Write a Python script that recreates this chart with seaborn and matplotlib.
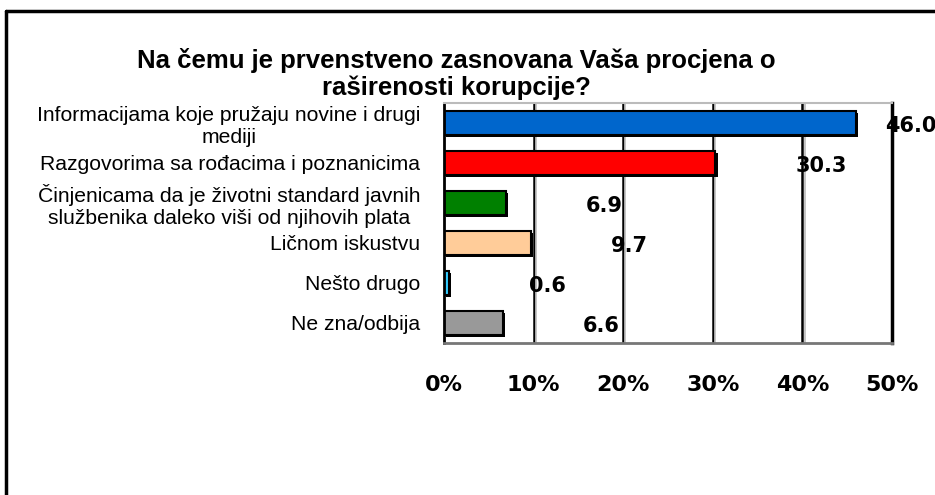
"""Horizontal bar chart: basis of the respondents' estimate of corruption."""
import matplotlib
matplotlib.use("Agg")
import matplotlib.pyplot as plt
import matplotlib.patheffects as pe
from matplotlib.lines import Line2D
import pandas as pd
import seaborn as sns

categories = [
    "Informacijama koje pružaju novine i drugi\nmediji",
    "Razgovorima sa rođacima i poznanicima",
    "Činjenicama da je životni standard javnih\nslužbenika daleko viši od njihovih plata",
    "Ličnom iskustvu",
    "Nešto drugo",
    "Ne zna/odbija",
]
values = [46.0, 30.3, 6.9, 9.7, 0.6, 6.6]
colors = ["#0066CC", "#FF0000", "#008000", "#FFCC99", "#33CCFF", "#999999"]
xticks = [0, 10, 20, 30, 40, 50]
title = "Na čemu je prvenstveno zasnovana Vaša procjena o\nraširenosti korupcije?"

df = pd.DataFrame({"cat": categories, "val": values})

sns.set_style("white")
plt.rcParams["font.family"] = ["Liberation Sans", "DejaVu Sans"]
plt.rcParams["text.color"] = "black"
plt.rcParams["xtick.color"] = "black"
plt.rcParams["ytick.color"] = "black"

fig = plt.figure(figsize=(9.35, 4.95), dpi=100)
ax = fig.add_axes([444 / 935, 1 - 343 / 495, 448 / 935, 240 / 495])

sns.barplot(data=df, y="cat", x="val", hue="cat", palette=colors, legend=False,
            orient="h", width=0.6, saturation=1, edgecolor="black", linewidth=1.5, ax=ax)
for p in ax.patches:
    p.set_path_effects([pe.SimplePatchShadow(offset=(1.5, -1.5), shadow_rgbFace="black", alpha=1),
                        pe.Normal()])

ax.set_xlim(0, 50)
ax.set_ylim(len(categories) - 0.5, -0.5)
ax.set_xticks(xticks)
ax.set_xticklabels([f"{t}%" for t in xticks], family="DejaVu Sans", fontweight="bold", fontsize=16)
ax.set_yticks([i + 0.5 for i in range(-1, len(categories))], minor=True)
ax.set_yticks(range(len(categories)))
ax.set_yticklabels(categories, fontsize=15.2, multialignment="center", linespacing=1.2)
ax.tick_params(axis="y", which="major", length=0, pad=17)
ax.tick_params(axis="y", which="minor", direction="inout", length=8, width=1.5, color="black")
ax.tick_params(axis="x", direction="inout", length=8, width=1.5, color="black", pad=19)
ax.set_xlabel("")
ax.set_ylabel("")

for x in xticks[1:-1]:
    ax.axvline(x, color="black", lw=1.8, zorder=0)
    ax.axvline(x + 0.25, color="#BBBBBB", lw=1.2, zorder=0)
ax.spines["left"].set_color("black")
ax.spines["left"].set_linewidth(2)
ax.spines["bottom"].set_color("#777777")
ax.spines["bottom"].set_linewidth(2)
ax.spines["top"].set_color("#BBBBBB")
ax.spines["top"].set_linewidth(1.5)
ax.spines["right"].set_color("black")
ax.spines["right"].set_linewidth(2.5)

for i, v in enumerate(values):
    ax.text(min(v + 8.9, 49.2), i + 0.08, f"{v:.1f}", family="DejaVu Sans", fontweight="bold",
            fontsize=15, va="center", ha="left", clip_on=False)

fig.text(456 / 935, 1 - 74 / 495, title, ha="center", va="center", fontsize=18.5,
         fontweight="bold", linespacing=1.15)

fig.add_artist(Line2D([6 / 935, 6 / 935], [0, 1 - 11 / 495], color="black", lw=2.5))
fig.add_artist(Line2D([6 / 935, 1], [1 - 11 / 495, 1 - 11 / 495], color="black", lw=2.5))

fig.savefig("out.png", dpi=100)
plt.close(fig)
